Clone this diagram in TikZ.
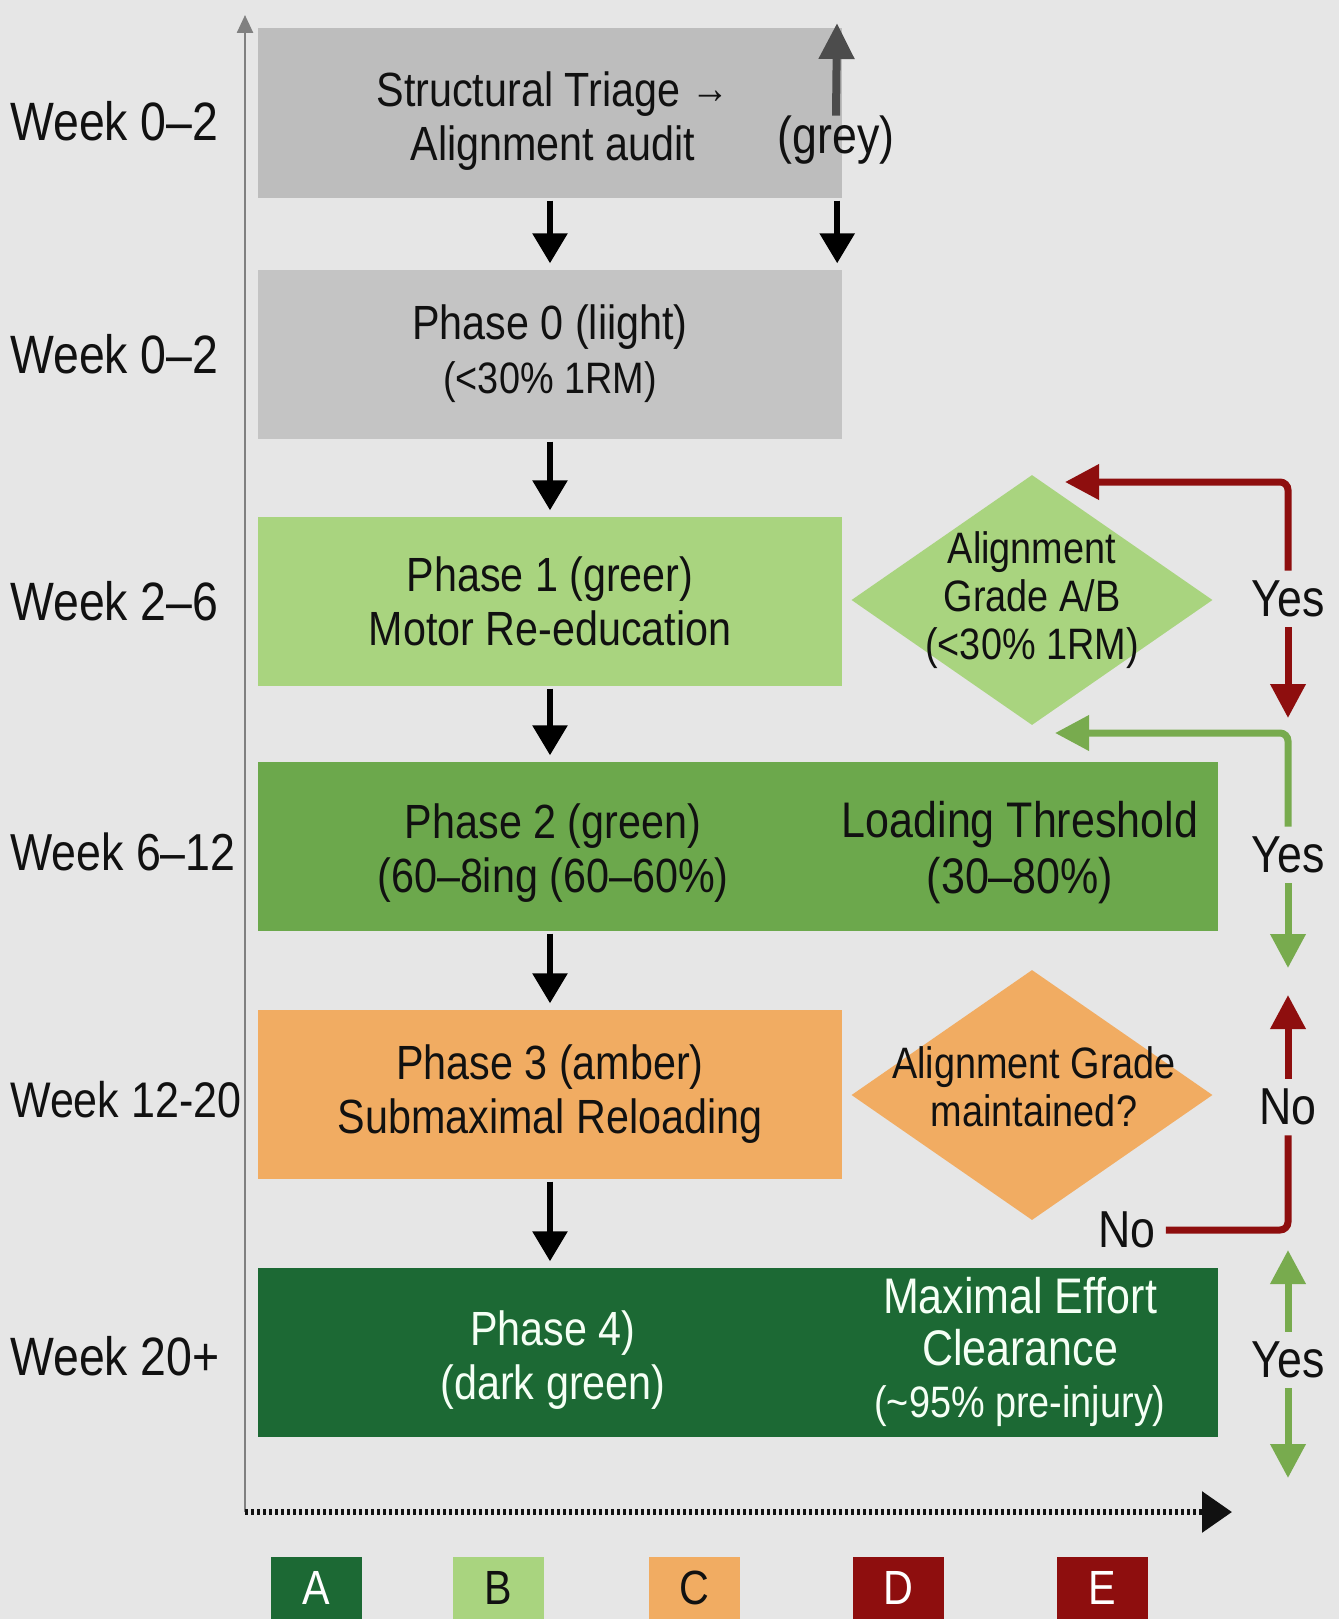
\documentclass[tikz,border=0pt]{standalone}
\usepackage{fontspec}
\setmainfont{Liberation Sans}[FakeStretch=0.86]
\usetikzlibrary{arrows.meta,shapes.geometric}
\definecolor{bgcol}{HTML}{E6E6E6}
\definecolor{greybox}{HTML}{BDBDBD}
\definecolor{lightgrn}{HTML}{A9D47F}
\definecolor{midgrn}{HTML}{6CA84C}
\definecolor{ambr}{HTML}{F1AC62}
\definecolor{darkgrn}{HTML}{1C6934}
\definecolor{darkred}{HTML}{8E0E0E}
\definecolor{arrowgrn}{HTML}{78AB4E}
\definecolor{inkcol}{HTML}{111111}

\begin{document}
\begin{tikzpicture}[x=1pt, y=-1pt,
  phase/.style={rectangle, inner sep=0pt, minimum height=169pt, align=center, text=inkcol, font=\fontsize{48}{54}\selectfont},
  narrow/.style={phase, minimum width=584pt},
  wide/.style={phase, minimum width=960pt},
  boxtxt/.style={align=center, inner sep=0pt, text=inkcol, font=\fontsize{48}{54}\selectfont},
  decision/.style={diamond, inner sep=0pt, minimum width=361pt, minimum height=250pt},
  dectxt/.style={align=center, inner sep=0pt, text=inkcol, font=\fontsize{44}{48}\selectfont},
  answer/.style={inner sep=10pt, text=inkcol, font=\fontsize{52}{52}\selectfont},
  flow/.style={-{Triangle[width=34pt,length=30pt]}, line width=6pt, shorten <=3pt, shorten >=6pt},
  backline/.style={line width=7pt, rounded corners=8pt},
  headed/.style={-{Triangle[width=34pt,length=34pt]}},
  legendbox/.style={anchor=north, minimum width=91pt, minimum height=62pt, inner sep=0pt, font=\fontsize{48}{48}\selectfont}]
  \fill[bgcol] (0,0) rectangle (1339,1619);
  \useasboundingbox (0,0) rectangle (1339,1619);

  % axes
  \coordinate (origin) at (245,1512);
  \coordinate (ytip) at (245,15);
  \coordinate (xtip) at (1232,1512);
  \draw[gray, line width=2.5pt, -{Triangle[width=16pt,length=18pt]}] (origin) -- (ytip);
  \draw[inkcol, line width=6pt, dash pattern=on 2.5pt off 3.5pt, -{Triangle[width=40pt,length=30pt]}] (origin) -- (xtip);

  % week labels
  \foreach \y/\t/\s in {121/{Week 0--2}/54, 354/{Week 0--2}/54, 601/{Week 2--6}/54, 852/{Week 6--12}/52, 1100/{Week 12-20}/50, 1356/{Week 20+}/54}
    \node[anchor=west, inner sep=0pt, text=inkcol, font=\fontsize{\s}{\s}\selectfont] at (10,\y) {\t};

  % phase boxes
  \node[narrow, fill=greybox] (box1) at (550,113) {};
  \node[boxtxt] (triage) at (553,121) {Structural Triage {\fontsize{44}{44}\selectfont\raisebox{3pt}{→}}\\Alignment audit};
  \node[text=inkcol, inner sep=0pt, font=\fontsize{52}{52}\selectfont] (greylbl) at (836,140) {(grey)};
  \node[narrow, fill=greybox!90!white] (box2) at (550,354) {Phase 0 (liight)\\{\fontsize{44}{50}\selectfont (<30\% 1RM)}};
  \node[narrow, fill=lightgrn] (box3) at (550,601) {Phase 1 (greer)\\Motor Re-education};
  \node[wide, fill=midgrn] (box4) at (738,846) {};
  \node[boxtxt] (p2txt) at (553,853) {Phase 2 (green)\\(60--8ing (60--60\%)};
  \node[boxtxt, font=\fontsize{50}{56}\selectfont] (thrtxt) at (1020,853) {Loading Threshold\\(30--80\%)};
  \node[narrow, fill=ambr] (box5) at (550,1094) {Phase 3 (amber)\\Submaximal Reloading};
  \node[wide, fill=darkgrn] (box6) at (738,1352) {};
  \node[boxtxt, text=green!4!white] (p4txt) at (553,1360) {Phase 4)\\(dark green)};
  \node[boxtxt, text=green!4!white, font=\fontsize{50}{52}\selectfont] (clrtxt) at (1020,1352) {Maximal Effort\\Clearance\\{\fontsize{44}{50}\selectfont (\textasciitilde95\% pre-injury)}};

  % checks
  \node[decision, fill=lightgrn] (chk1) at (1032,600) {};
  \node[dectxt] (chk1txt) at (chk1) {Alignment\\Grade A/B\\(<30\% 1RM)};
  \node[decision, fill=ambr] (chk2) at (1032,1095) {};
  \node[dectxt] (chk2txt) at (1034,1087) {Alignment Grade\\maintained?};

  % main flow
  \coordinate (greytip) at (837,23);
  \draw[line width=8pt, black!70, -{Triangle[width=34pt,length=36pt]}] (greylbl.north) -- (greytip);
  \draw[flow] (box1.south) -- (box2.north);
  \draw[flow] ([xshift=-5pt]box1.south east) -- ([xshift=-5pt]box2.north east);
  \draw[flow] (box2.south) -- (box3.north);
  \draw[flow] (box3.south) -- (box3.south |- box4.north);
  \draw[flow] (box3.south |- box4.south) -- (box5.north);
  \draw[flow] (box5.south) -- (box5.south |- box6.north);

  % right-hand returns
  \node[answer] (yesA) at (1288,599) {Yes};
  \node[answer] (yesB) at (1288,855) {Yes};
  \node[answer] (noA) at (1288,1107) {No};
  \node[answer] (noB) at (1127,1230) {No};
  \node[answer] (yesC) at (1288,1360) {Yes};
  \coordinate (redcorner) at (1288,482);
  \coordinate (redend) at (1065,482);
  \coordinate (reddown) at (1288,718);
  \coordinate (grncorner) at (1288,733);
  \coordinate (grnend) at (1055,733);
  \coordinate (grndown) at (1288,968);
  \coordinate (redup) at (1288,995);
  \coordinate (grnup) at (1288,1250);
  \coordinate (grnlow) at (1288,1478);
  \draw[backline, darkred, headed] (yesA.north) -- (redcorner) -- (redend);
  \draw[backline, darkred, headed] (yesA.south) -- (reddown);
  \draw[backline, arrowgrn, headed] (yesB.north) -- (grncorner) -- (grnend);
  \draw[backline, arrowgrn, headed] (yesB.south) -- (grndown);
  \draw[backline, darkred, headed] (noA.north) -- (redup);
  \draw[backline, darkred] (noA.south) |- (noB.east);
  \draw[backline, arrowgrn, headed] (yesC.north) -- (grnup);
  \draw[backline, arrowgrn, headed] (yesC.south) -- (grnlow);

  % legend
  \foreach \n/\x/\c/\t in {A/316/darkgrn/white, B/498/lightgrn/inkcol, C/694/ambr/inkcol, D/898/darkred/white, E/1102/darkred/white}
    \node[legendbox, fill=\c, text=\t] (leg\n) at (\x,1557) {\n};
\end{tikzpicture}
\end{document}
